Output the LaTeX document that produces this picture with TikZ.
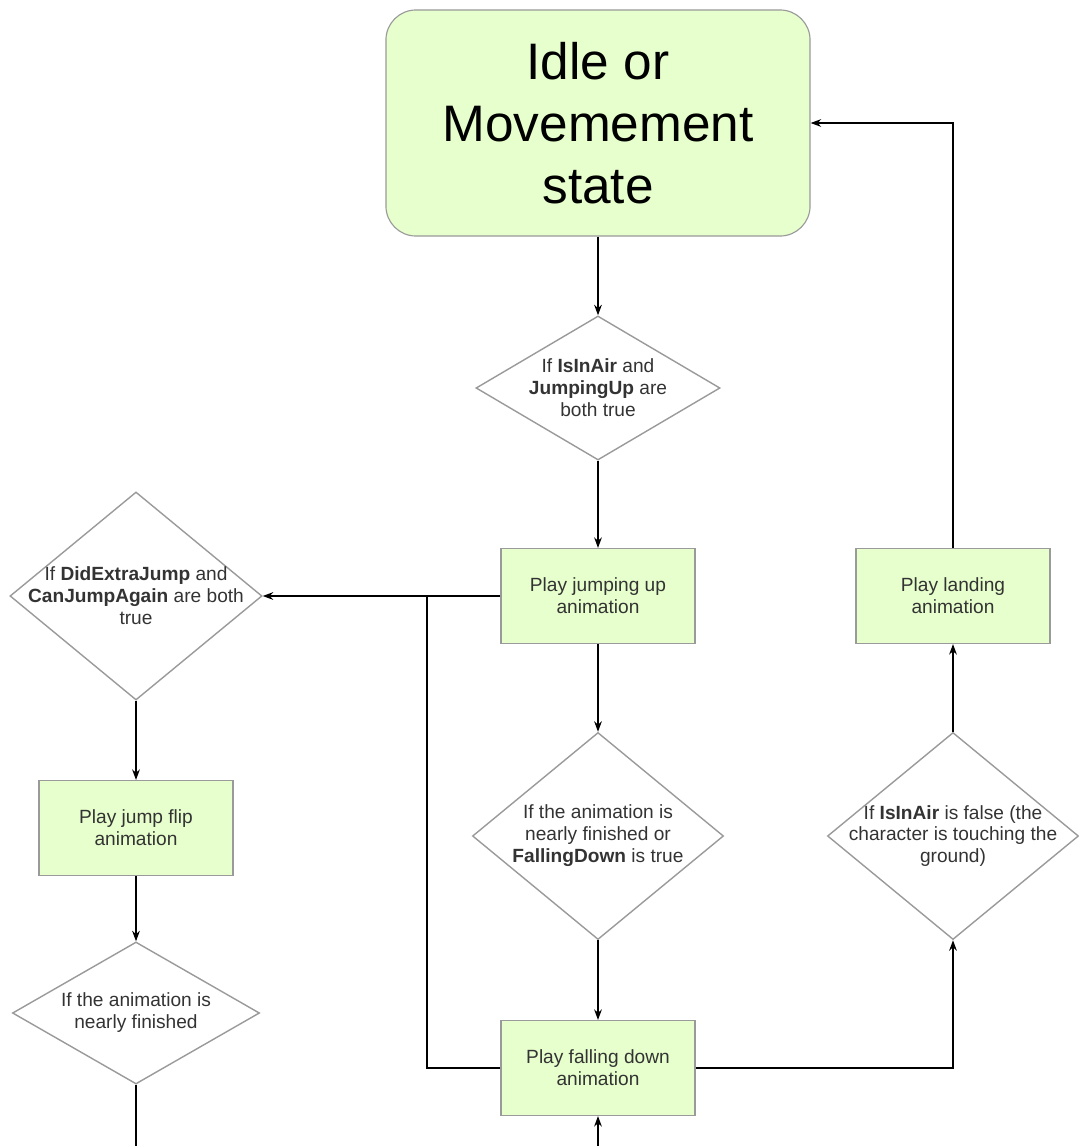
\documentclass[tikz,border=0pt]{standalone}
\usepackage{fontspec}
\setmainfont{Liberation Sans}
\usetikzlibrary{shapes.geometric,arrows.meta}
\definecolor{stategreen}{HTML}{E6FFCC}
\definecolor{edgegrey}{HTML}{9A9A9A}
\begin{document}
\begin{tikzpicture}[x=0.025cm,y=-0.025cm,
    state/.style={draw=edgegrey,line width=0.8pt,fill=stategreen,rounded corners=0.75cm,
      minimum width=10.6cm,minimum height=5.65cm,align=center,
      font=\fontsize{36.5}{44}\selectfont},
    action/.style={draw=edgegrey,line width=0.8pt,fill=stategreen,inner sep=0pt,
      minimum width=4.85cm,minimum height=2.375cm,align=center,text=black!80,
      font=\fontsize{13.6}{15.6}\selectfont},
    decision/.style={diamond,draw=edgegrey,line width=1pt,inner sep=0pt},
    caption/.style={align=center,text=black!80,font=\fontsize{13.6}{15.6}\selectfont},
    flow/.style={-{Stealth[length=7.5pt,width=5.5pt]},line width=0.9pt}]
  \useasboundingbox (0,0) rectangle (1079,1146);
  \node[state] (idle) at (598,123) {Idle or\\Movemement\\state};
  \node[decision,minimum width=6.1cm,minimum height=3.6cm] (airup) at (598,388) {};
  \node[caption] (airuptext) at (airup) {If \textbf{IsInAir} and\\\textbf{JumpingUp} are\\both true};
  \node[action] (jumpup) at (598,596) {Play jumping up\\animation};
  \node[decision,minimum width=6.3cm,minimum height=5.2cm] (extra) at (136,596) {};
  \node[caption] (extratext) at (extra) {If \textbf{DidExtraJump} and\\\textbf{CanJumpAgain} are both\\true};
  \node[action] (flip) at (136,828) {Play jump flip\\animation};
  \node[decision,minimum width=6.175cm,minimum height=3.55cm] (flipdone) at (136,1013) {};
  \node[caption] (flipdonetext) at (flipdone) {If the animation is\\nearly finished};
  \node[decision,minimum width=6.275cm,minimum height=5.175cm] (jumpdone) at (598,836) {};
  \node[caption] (jumpdonetext) at (jumpdone) {If the animation is\\nearly finished or\\\textbf{FallingDown} is true};
  \node[action] (falldown) at (598,1068) {Play falling down\\animation};
  \node[decision,minimum width=6.275cm,minimum height=5.175cm] (ground) at (953,836) {};
  \node[caption] (groundtext) at (ground) {If \textbf{IsInAir} is false (the\\character is touching the\\ground)};
  \node[action] (landing) at (953,596) {Play landing\\animation};
  \coordinate (split) at (427,596);
  \coordinate (leftend) at (136,1146);
  \coordinate (bottomin) at (598,1146);
  \begin{scope}[flow]
    \draw (idle) -- (airup);
    \draw (airup) -- (jumpup);
    \draw (jumpup) -- (jumpdone);
    \draw (jumpdone) -- (falldown);
    \draw (jumpup.west) -- (extra.east);
    \draw (extra) -- (flip);
    \draw (flip) -- (flipdone);
    \draw[-] (flipdone) -- (leftend);
    \draw (bottomin) -- (falldown);
    \draw[-] (falldown.west) -| (split);
    \draw (falldown.east) -| (ground.south);
    \draw (ground) -- (landing);
    \draw (landing.north) |- (idle.east);
  \end{scope}
\end{tikzpicture}
\end{document}
